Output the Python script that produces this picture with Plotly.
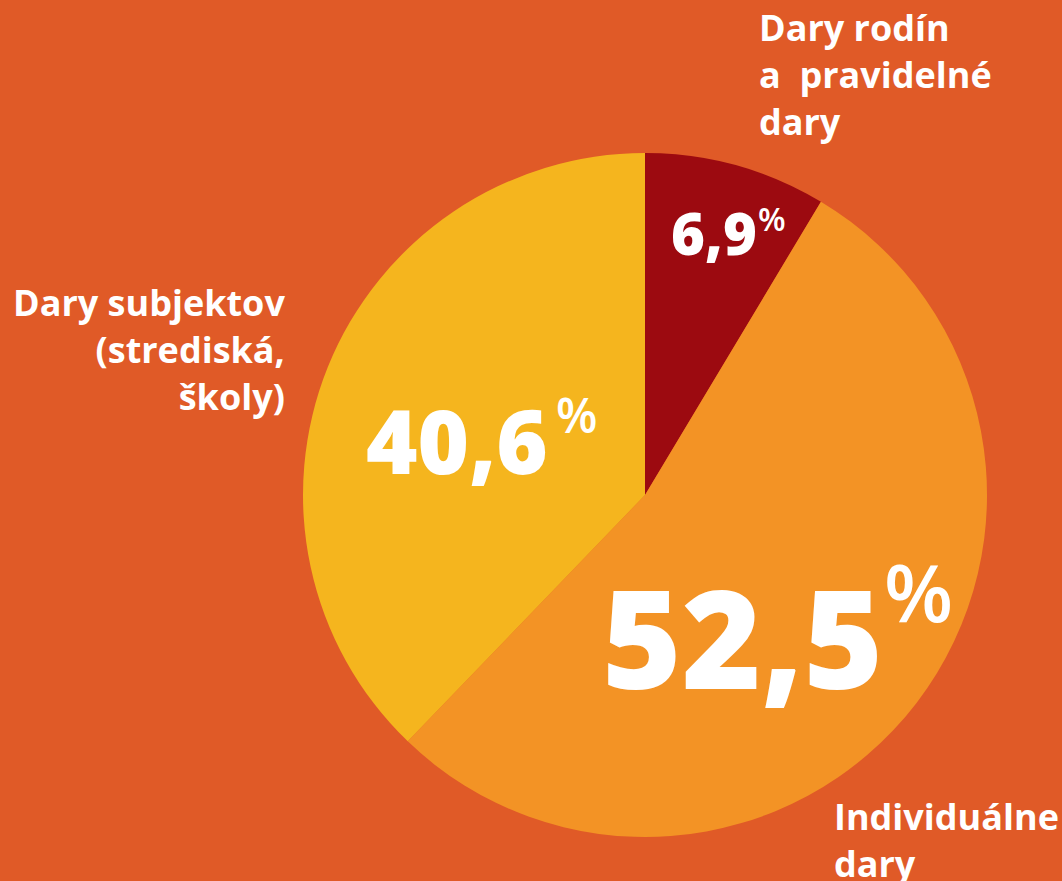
import plotly.graph_objects as go

labels = ["Dary rodín a pravidelné dary", "Individuálne dary", "Dary subjektov (strediská, školy)"]
# slice sizes as drawn in the picture (angles measured), and the printed percentages
slice_values = [8.6, 53.6, 37.8]
printed_pct = [6.9, 52.5, 40.6]
colors = ["#9C0A10", "#F39325", "#F5B51E"]
label_texts = ["Dary rodín<br>a  pravidelné<br>dary", "Individuálne<br>dary", "Dary subjektov<br>(strediská,<br>školy)"]

W, H = 1062, 881
BG = "#E05A27"

def px(x):
    return x / W

def py(y):
    return 1 - y / H

fig = go.Figure()
fig.add_trace(go.Pie(
    labels=labels, values=slice_values, sort=False, direction="clockwise", rotation=0,
    marker=dict(colors=colors, line=dict(width=0)),
    textinfo="none", hoverinfo="label", showlegend=False,
    domain=dict(x=[px(303), px(987)], y=[py(837), py(153)]),
))

num_font = "Open Sans"
def fmt(v):
    return f"{v:.1f}".replace(".", ",")

# (x_left, y_center, size, pct_x, pct_y, pct_size)
num_pos = [
    (669, 232, 58, 756, 219, 32),
    (600, 636, 136, 882, 590, 80),
    (364, 440, 88, 554, 415, 48),
]
ann = []
for v, (x, y, s, pxx, pyy, ps) in zip(printed_pct, num_pos):
    ann.append(dict(text=fmt(v), x=px(x), y=py(y), xref="paper", yref="paper",
                    xanchor="left", yanchor="middle", showarrow=False,
                    font=dict(family=num_font, size=s, color="white", weight=800)))
    ann.append(dict(text="%", x=px(pxx), y=py(pyy), xref="paper", yref="paper",
                    xanchor="left", yanchor="middle", showarrow=False,
                    font=dict(family=num_font, size=ps, color="white", weight=600)))

lab_font = dict(family="Open Sans", size=36, color="white", weight=700)
ann.append(dict(text=label_texts[0], x=px(757), y=py(1), xref="paper", yref="paper",
                xanchor="left", yanchor="top", align="left", showarrow=False, font=lab_font))
ann.append(dict(text=label_texts[1], x=px(832), y=py(790), xref="paper", yref="paper",
                xanchor="left", yanchor="top", align="left", showarrow=False, font=lab_font))
ann.append(dict(text=label_texts[2], x=px(287), y=py(276), xref="paper", yref="paper",
                xanchor="right", yanchor="top", align="right", showarrow=False, font=lab_font))

fig.update_layout(
    width=W, height=H, margin=dict(l=0, r=0, t=0, b=0),
    paper_bgcolor=BG, plot_bgcolor=BG, annotations=ann,
)
fig.write_html("out.html", config={"displayModeBar": False},
               post_script="document.body.style.margin='0';document.body.style.background='%s';" % BG)
